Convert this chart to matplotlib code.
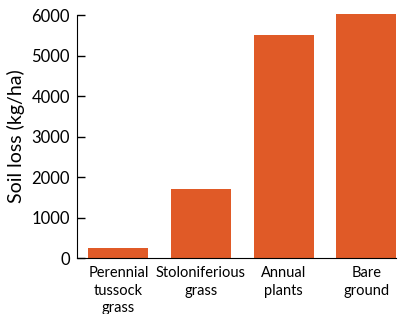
import matplotlib
matplotlib.use("Agg")
import matplotlib.pyplot as plt

categories = ["Perennial\ntussock\ngrass", "Stoloniferious\ngrass", "Annual\nplants", "Bare\nground"]
soil_loss = [250, 1700, 5500, 6020]
yticks = [0, 1000, 2000, 3000, 4000, 5000, 6000]

plt.rcParams['font.family'] = ['Lato', 'DejaVu Sans']
fig = plt.figure(figsize=(4.0, 3.14), dpi=100)
ax = fig.add_axes([0.1925, 0.178, 0.7975, 0.774])
x = range(len(categories))
ax.bar(x, soil_loss, width=0.725, color="#E05A27", clip_on=False)
ax.set_xlim(-0.5, 3.36)
ax.set_ylim(0, 6000)
ax.set_yticks(yticks)
ax.set_yticklabels([str(v) for v in yticks], fontsize=12)
ax.set_xticks(list(x))
ax.set_xticklabels(categories, fontsize=10.5, linespacing=1.3)
ax.tick_params(axis='x', length=0, pad=6)
ax.tick_params(axis='y', direction='in', length=6, width=1, pad=5)
ax.spines['top'].set_visible(False)
ax.spines['right'].set_visible(False)
ax.set_ylabel("Soil loss (kg/ha)", fontsize=14, labelpad=5)
fig.savefig("out.png", dpi=100)
